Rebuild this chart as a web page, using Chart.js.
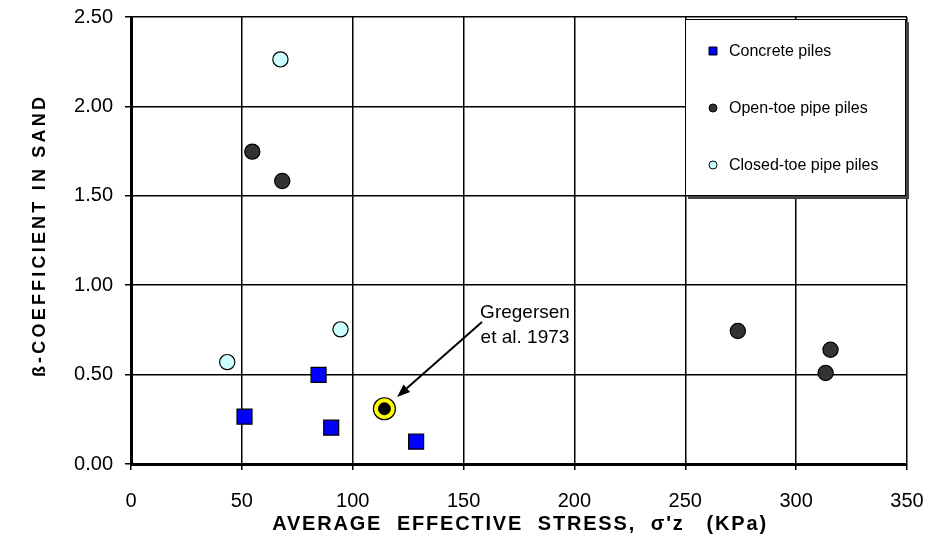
<!DOCTYPE html>
<html lang="en">
<head>
<meta charset="UTF-8">
<title>Beta coefficient in sand vs average effective stress</title>
<script src="https://cdn.jsdelivr.net/npm/chart.js"></script>
<style>body{margin:0;background:#fff}</style>
</head>
<body>
<canvas id="betaChart" width="929" height="554"></canvas>
<script>
    // Values
    const concreteX = [51.2, 84.6, 90.3, 128.6];
    const concreteY = [0.265, 0.498, 0.203, 0.125];
    const openToeX = [54.7, 68.2, 273.7, 315.5, 313.3];
    const openToeY = [1.747, 1.583, 0.744, 0.639, 0.509];
    const closedToeX = [43.4, 94.5, 67.4];
    const closedToeY = [0.57, 0.753, 2.263];
    const gregersenX = [114.3];
    const gregersenY = [0.309];

    const xTickValues = [0, 50, 100, 150, 200, 250, 300, 350];
    const yTickValues = [0, 0.5, 1.0, 1.5, 2.0, 2.5];

    const seriesNames = ['Concrete piles', 'Open-toe pipe piles', 'Closed-toe pipe piles'];
    const xTitle = "AVERAGE  EFFECTIVE  STRESS,  σ'z   (KPa)";
    const yTitle = 'ß-COEFFICIENT IN SAND';
    const noteLines = ['Gregersen', 'et al. 1973'];
    // note text and arrow, in data units
    const noteAt = [177.7, 0.845];
    const arrowFrom = [158.3, 0.794];
    const arrowTo = [120, 0.375];

    const FONT = "'Liberation Sans', Arial, sans-serif";
    Chart.defaults.font.family = FONT;
    Chart.defaults.color = '#000';

    const toPoints = (xs, ys) => xs.map((x, i) => ({ x: x, y: ys[i] }));

    const legendStyles = [
        { style: 'rect', fill: '#0000FF' },
        { style: 'circle', fill: '#333333' },
        { style: 'circle', fill: '#CCFFFF' }
    ];

    const extras = {
        id: 'extras',
        afterDraw(chart) {
            const ctx = chart.ctx;
            const area = chart.chartArea;
            const xs = chart.scales.x, ys = chart.scales.y;
            ctx.save();

            // legend box
            const bw = 221, bh = 177;
            const bx = area.right - bw - 1, by = area.top + 2;
            ctx.fillStyle = '#444';
            ctx.fillRect(bx + 3, by + 3, bw, bh);
            ctx.fillStyle = '#fff';
            ctx.fillRect(bx, by, bw, bh);
            ctx.strokeStyle = '#000';
            ctx.lineWidth = 1;
            ctx.strokeRect(bx + 0.5, by + 0.5, bw - 1, bh - 1);
            ctx.font = '16px ' + FONT;
            ctx.textBaseline = 'middle';
            ctx.textAlign = 'left';
            seriesNames.forEach((name, i) => {
                const cy = by + 32 + i * 57;
                const cx = bx + 28;
                const st = legendStyles[i];
                ctx.fillStyle = st.fill;
                ctx.strokeStyle = '#000';
                ctx.lineWidth = 1;
                ctx.beginPath();
                if (st.style === 'rect') ctx.rect(cx - 4, cy - 4, 8, 8);
                else ctx.arc(cx, cy, 4, 0, Math.PI * 2);
                ctx.fill();
                ctx.stroke();
                ctx.fillStyle = '#000';
                ctx.fillText(name, cx + 16, cy + 1);
            });

            // note and arrow
            const nx = xs.getPixelForValue(noteAt[0]);
            const ny = ys.getPixelForValue(noteAt[1]);
            ctx.font = '19px ' + FONT;
            ctx.textAlign = 'center';
            ctx.fillStyle = '#000';
            noteLines.forEach((t, i) => ctx.fillText(t, nx, ny + i * 25));

            const x1 = xs.getPixelForValue(arrowFrom[0]), y1 = ys.getPixelForValue(arrowFrom[1]);
            const x2 = xs.getPixelForValue(arrowTo[0]), y2 = ys.getPixelForValue(arrowTo[1]);
            const len = Math.hypot(x2 - x1, y2 - y1);
            const ux = (x2 - x1) / len, uy = (y2 - y1) / len;
            const head = 13, half = 5;
            ctx.strokeStyle = '#000';
            ctx.lineWidth = 2;
            ctx.beginPath();
            ctx.moveTo(x1, y1);
            ctx.lineTo(x2 - ux * head, y2 - uy * head);
            ctx.stroke();
            ctx.beginPath();
            ctx.moveTo(x2, y2);
            ctx.lineTo(x2 - ux * head - uy * half, y2 - uy * head + ux * half);
            ctx.lineTo(x2 - ux * head + uy * half, y2 - uy * head - ux * half);
            ctx.closePath();
            ctx.fill();

            // axis titles
            ctx.font = 'bold 20px ' + FONT;
            ctx.letterSpacing = '1.8px';
            ctx.textAlign = 'center';
            ctx.fillText(xTitle, (area.left + area.right) / 2 + 1, 524);
            ctx.font = 'bold 18px ' + FONT;
            ctx.letterSpacing = '3.2px';
            ctx.translate(40, (area.top + area.bottom) / 2 - 5);
            ctx.rotate(-Math.PI / 2);
            ctx.fillText(yTitle, 0, 0);
            ctx.restore();
        }
    };

    const ctx = document.getElementById('betaChart').getContext('2d');
    const betaChart = new Chart(ctx, {
        type: 'scatter',
        data: {
            datasets: [
                {
                    label: 'Gregersen et al. 1973',
                    data: toPoints(gregersenX, gregersenY),
                    pointStyle: 'circle',
                    pointRadius: 6,
                    backgroundColor: '#000',
                    borderColor: '#000',
                    borderWidth: 1,
                    order: 0
                },
                {
                    label: 'Gregersen ring',
                    data: toPoints(gregersenX, gregersenY),
                    pointStyle: 'circle',
                    pointRadius: 11,
                    backgroundColor: '#FFFF00',
                    borderColor: '#000',
                    borderWidth: 1.2,
                    order: 1
                },
                {
                    label: seriesNames[0],
                    data: toPoints(concreteX, concreteY),
                    pointStyle: 'rect',
                    pointRadius: 10.6,
                    backgroundColor: '#0000FF',
                    borderColor: '#000',
                    borderWidth: 1.2,
                    order: 2
                },
                {
                    label: seriesNames[1],
                    data: toPoints(openToeX, openToeY),
                    pointStyle: 'circle',
                    pointRadius: 7.6,
                    backgroundColor: '#333333',
                    borderColor: '#000',
                    borderWidth: 1.2,
                    order: 2
                },
                {
                    label: seriesNames[2],
                    data: toPoints(closedToeX, closedToeY),
                    pointStyle: 'circle',
                    pointRadius: 7.6,
                    backgroundColor: '#CCFFFF',
                    borderColor: '#000',
                    borderWidth: 1.2,
                    order: 2
                }
            ]
        },
        options: {
            responsive: false,
            animation: false,
            events: [],
            devicePixelRatio: 1,
            layout: { padding: { top: 17, right: 22, left: 0, bottom: 0 } },
            plugins: {
                legend: { display: false },
                tooltip: { enabled: false }
            },
            scales: {
                x: {
                    type: 'linear',
                    min: 0,
                    max: 350,
                    afterBuildTicks: s => { s.ticks = xTickValues.map(v => ({ value: v })); },
                    afterFit: s => { s.height = 90; s.paddingLeft = 0; s.paddingRight = 0; },
                    ticks: { font: { size: 20 }, padding: 19, maxRotation: 0, autoSkip: false },
                    grid: { color: '#000', lineWidth: 1.5, tickLength: 6 },
                    border: { color: '#000', width: 3 }
                },
                y: {
                    min: 0,
                    max: 2.5,
                    afterBuildTicks: s => { s.ticks = yTickValues.map(v => ({ value: v })); },
                    afterFit: s => { s.width = 131; s.paddingTop = 0; s.paddingBottom = 0; },
                    ticks: { font: { size: 20 }, padding: 12, callback: v => Number(v).toFixed(2), autoSkip: false },
                    grid: { color: '#000', lineWidth: 1.5, tickLength: 6 },
                    border: { color: '#000', width: 3 }
                }
            }
        },
        plugins: [extras]
    });
</script>
</body>
</html>
